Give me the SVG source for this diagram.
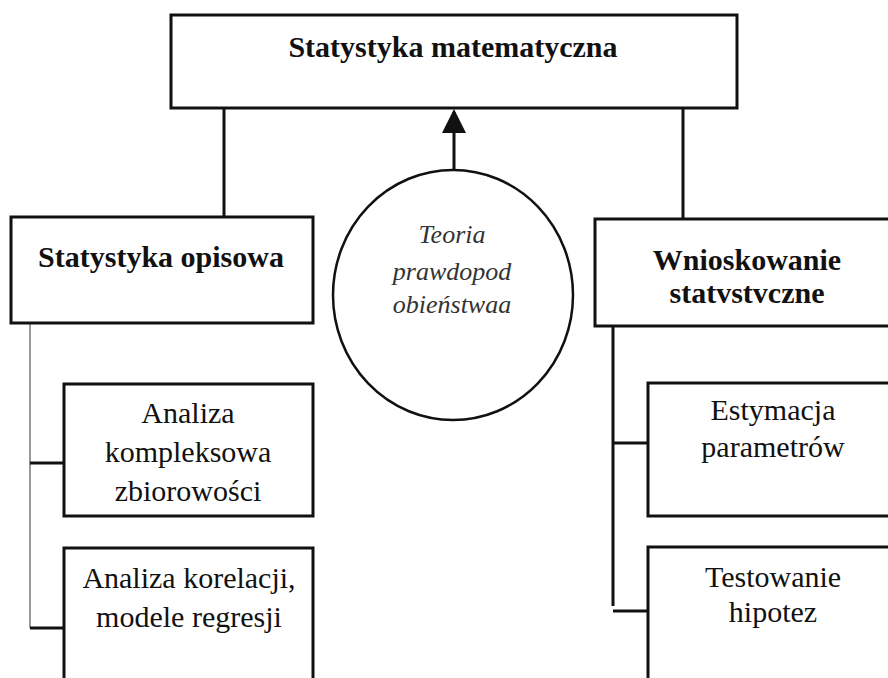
<svg xmlns="http://www.w3.org/2000/svg" width="888" height="678" viewBox="0 0 888 678">
<defs>
<style>
.box{fill:#fff;stroke:#111;stroke-width:3}
.b{font-family:"Liberation Serif","Times New Roman",serif;font-weight:bold;font-size:30px;fill:#111;text-anchor:middle}
.r{font-family:"Liberation Serif","Times New Roman",serif;font-size:30px;fill:#111;text-anchor:middle}
.i{font-family:"Liberation Serif","Times New Roman",serif;font-style:italic;font-size:26px;fill:#333;text-anchor:middle}
.c{fill:none;stroke:#111;stroke-width:3}
.thin{fill:none;stroke:#555;stroke-width:1.2}
</style>
<marker id="ah" markerWidth="8" markerHeight="8" refX="7" refY="4" orient="auto" markerUnits="strokeWidth">
<path d="M0,0 L8,4 L0,8 z" fill="#111"/>
</marker>
</defs>
<rect width="888" height="678" fill="#fff"/>
<g id="connectors">
<line class="c" x1="224" y1="108" x2="224" y2="217"/>
<line class="c" x1="683" y1="108" x2="683" y2="219"/>
<line class="c" x1="454" y1="170" x2="454" y2="112" stroke-width="3" marker-end="url(#ah)"/>
<line class="thin" x1="30" y1="323" x2="30" y2="628"/>
<line class="c" x1="30" y1="463" x2="64" y2="463"/>
<line class="c" x1="30" y1="628" x2="64" y2="628"/>
<line class="c" x1="613" y1="322" x2="613" y2="606"/>
<line class="c" x1="613" y1="443" x2="648" y2="443"/>
<line class="c" x1="613" y1="611" x2="648" y2="611"/>
</g>
<g id="node-statystyka-matematyczna">
<rect class="box" x="171" y="15" width="566" height="93"/>
<text class="b" x="453" y="57">Statystyka matematyczna</text>
</g>
<g id="node-teoria">
<ellipse cx="453" cy="295" rx="120" ry="125" fill="#fff" stroke="#111" stroke-width="2.5"/>
<text class="i" x="452" y="243">Teoria</text>
<text class="i" x="452" y="280">prawdopod</text>
<text class="i" x="452" y="313">obieństwaa</text>
</g>
<g id="node-statystyka-opisowa">
<rect class="box" x="11" y="217" width="302" height="106"/>
<text class="b" x="161" y="267">Statystyka opisowa</text>
</g>
<g id="node-wnioskowanie">
<rect class="box" x="595" y="219" width="310" height="107"/>
<text class="b" x="747" y="270">Wnioskowanie</text>
<text class="b" x="747" y="303">statvstvczne</text>
</g>
<g id="node-analiza-kompleksowa">
<rect class="box" x="64" y="384" width="249" height="132"/>
<text class="r" x="188" y="423">Analiza</text>
<text class="r" x="188" y="462">kompleksowa</text>
<text class="r" x="188" y="501">zbiorowości</text>
</g>
<g id="node-analiza-korelacji">
<rect class="box" x="64" y="548" width="249" height="150"/>
<text class="r" x="189" y="588">Analiza korelacji,</text>
<text class="r" x="189" y="627">modele regresji</text>
</g>
<g id="node-estymacja">
<rect class="box" x="648" y="383" width="260" height="133"/>
<text class="r" x="773" y="420">Estymacja</text>
<text class="r" x="773" y="457">parametrów</text>
</g>
<g id="node-testowanie">
<rect class="box" x="648" y="547" width="260" height="150"/>
<text class="r" x="773" y="587">Testowanie</text>
<text class="r" x="773" y="622">hipotez</text>
</g>
</svg>
